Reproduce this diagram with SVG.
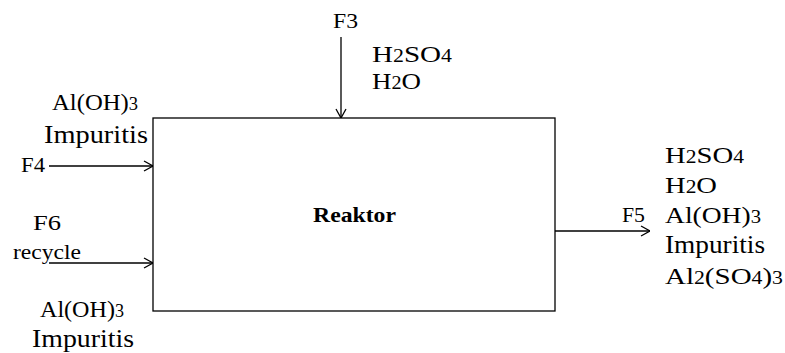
<svg xmlns="http://www.w3.org/2000/svg" width="785" height="353" viewBox="0 0 785 353">
<style>
text{font-family:"Liberation Serif","Times New Roman",serif;fill:#000}
.big{font-size:24px}
.imp{font-size:25px}
.sm{font-size:22px}
.sub{font-size:18px}
.title{font-size:22px;font-weight:bold}
.line{stroke:#000;stroke-width:1.3;fill:none}
</style>
<defs>
<marker id="ah" viewBox="0 0 10 12" refX="10" refY="6" markerWidth="10" markerHeight="12" markerUnits="userSpaceOnUse" orient="auto">
<path d="M1,1 L10,6 L1,11" fill="none" stroke="#000" stroke-width="1.3"/>
</marker>
</defs>
<rect width="785" height="353" fill="#fff"/>
<g id="reaktor">
<rect x="153" y="118" width="402" height="193" class="line"/>
<text x="313" y="222" class="title" textLength="83" lengthAdjust="spacingAndGlyphs">Reaktor</text>
</g>
<g id="connectors">
<line x1="341" y1="37" x2="341" y2="118" class="line" marker-end="url(#ah)"/>
<line x1="49" y1="166" x2="153" y2="166" class="line" marker-end="url(#ah)"/>
<line x1="49" y1="263" x2="153" y2="263" class="line" marker-end="url(#ah)"/>
<line x1="555" y1="231" x2="650" y2="231" class="line" marker-end="url(#ah)"/>
</g>
<g id="f3">
<text x="333" y="28" class="sm" textLength="25" lengthAdjust="spacingAndGlyphs">F3</text>
<text x="372" y="62" class="big" textLength="80" lengthAdjust="spacingAndGlyphs">H<tspan class="sub">2</tspan>SO<tspan class="sub">4</tspan></text>
<text x="372" y="89" class="big" textLength="49" lengthAdjust="spacingAndGlyphs">H<tspan class="sub">2</tspan>O</text>
</g>
<g id="f4">
<text x="52" y="110" class="big" textLength="86" lengthAdjust="spacingAndGlyphs">Al(OH)<tspan class="sub">3</tspan></text>
<text x="44" y="143" class="imp" textLength="104" lengthAdjust="spacingAndGlyphs">Impuritis</text>
<text x="21" y="172" class="sm" textLength="24" lengthAdjust="spacingAndGlyphs">F4</text>
</g>
<g id="f6">
<text x="33" y="230" class="sm" textLength="28" lengthAdjust="spacingAndGlyphs">F6</text>
<text x="13" y="259" class="sm" textLength="68" lengthAdjust="spacingAndGlyphs">recycle</text>
<text x="40" y="317" class="big" textLength="84" lengthAdjust="spacingAndGlyphs">Al(OH)<tspan class="sub">3</tspan></text>
<text x="32" y="347" class="imp" textLength="102" lengthAdjust="spacingAndGlyphs">Impuritis</text>
</g>
<g id="f5">
<text x="622" y="222" class="sm" textLength="23" lengthAdjust="spacingAndGlyphs">F5</text>
<text x="665" y="163" class="big" textLength="79" lengthAdjust="spacingAndGlyphs">H<tspan class="sub">2</tspan>SO<tspan class="sub">4</tspan></text>
<text x="665" y="193" class="big" textLength="52" lengthAdjust="spacingAndGlyphs">H<tspan class="sub">2</tspan>O</text>
<text x="665" y="223" class="big" textLength="96" lengthAdjust="spacingAndGlyphs">Al(OH)<tspan class="sub">3</tspan></text>
<text x="665" y="253" class="imp" textLength="100" lengthAdjust="spacingAndGlyphs">Impuritis</text>
<text x="665" y="284" class="big" textLength="118" lengthAdjust="spacingAndGlyphs">Al<tspan class="sub">2</tspan>(SO<tspan class="sub">4</tspan>)<tspan class="sub">3</tspan></text>
</g>
</svg>
